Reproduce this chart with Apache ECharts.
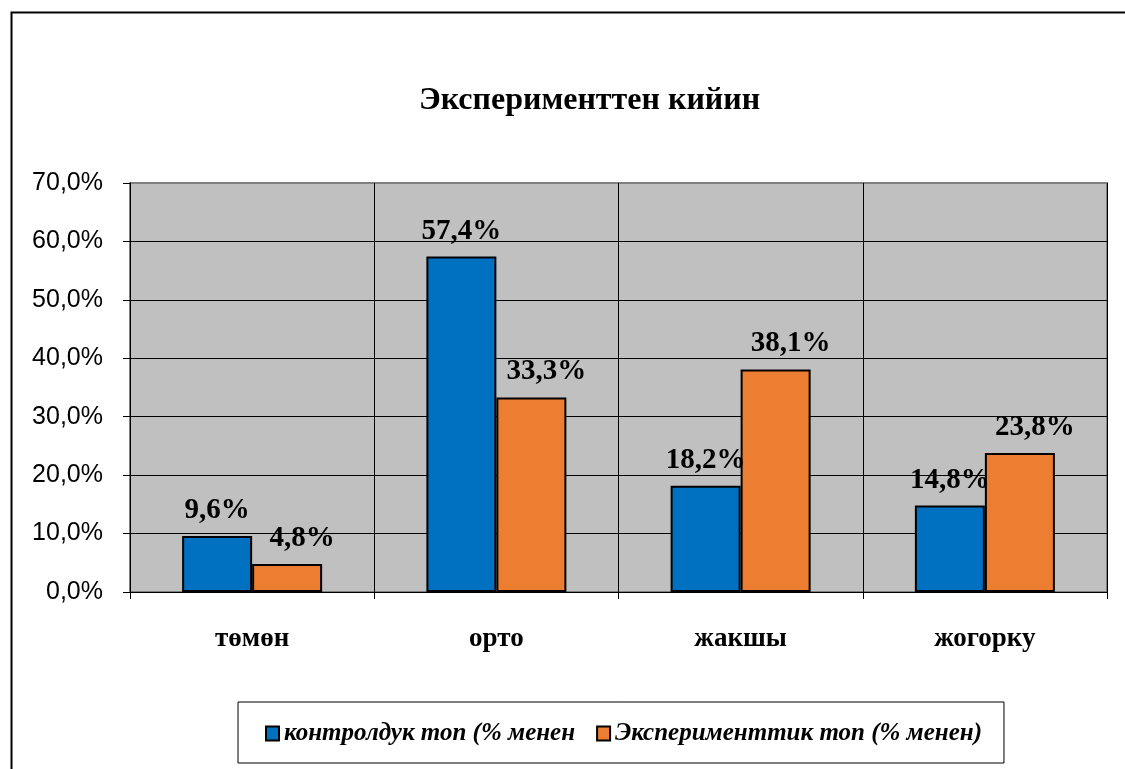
<!DOCTYPE html>
<html><head><meta charset="utf-8">
<script src="https://cdn.jsdelivr.net/npm/echarts@6/dist/echarts.min.js"></script>
<style>html,body{margin:0;padding:0;background:#fff}#c{width:1125px;height:769px}</style>
</head><body><div id="c"></div>
<script>
const categories = ['төмөн', 'орто', 'жакшы', 'жогорку'];
const controlValues = [9.6, 57.4, 18.2, 14.8];
const experimentValues = [4.8, 33.3, 38.1, 23.8];
const seriesNames = ['контролдук топ (% менен', 'Эксперименттик топ (% менен)'];
const titleText = 'Эксперименттен кийин';

const fmt = v => v.toFixed(1).replace('.', ',') + '%';
const serif = '"Liberation Serif", "Times New Roman", serif';
const sans = '"Liberation Sans", Arial, sans-serif';

const chart = echarts.init(document.getElementById('c'));
const labelBase = {
  show: true, position: 'top', distance: 11,
  fontFamily: serif, fontWeight: 'bold', fontSize: 29, color: '#000',
  formatter: p => fmt(p.value)
};
chart.setOption({
  animation: false,
  graphic: [{
    type: 'rect', left: 9, top: 10, z: -1,
    shape: { width: 1200, height: 800 },
    style: { fill: 'none', stroke: '#000', lineWidth: 2 }
  }],
  title: {
    text: titleText, left: 414, top: 80,
    textStyle: { fontFamily: serif, fontWeight: 'bold', fontSize: 32, color: '#000' }
  },
  grid: {
    left: 130, right: 18, top: 183, height: 409,
    show: true, backgroundColor: '#C0C0C0', borderColor: '#808080', borderWidth: 2
  },
  legend: {
    top: 702, left: 238,
    data: seriesNames,
    icon: 'rect', itemWidth: 13, itemHeight: 14, itemGap: 21,
    borderColor: '#000', borderWidth: 1, padding: [19, 22, 17, 27],
    textStyle: { fontFamily: serif, fontStyle: 'italic', fontWeight: 'bold', fontSize: 25, color: '#000' }
  },
  xAxis: {
    type: 'category', data: categories,
    axisLine: { lineStyle: { color: '#000', width: 1 } },
    axisTick: { show: true, length: 7, lineStyle: { color: '#000' } },
    axisLabel: { margin: 34, fontFamily: serif, fontWeight: 'bold', fontSize: 27, color: '#000' },
    splitLine: { show: true, lineStyle: { color: '#000', width: 1 } }
  },
  yAxis: {
    type: 'value', min: 0, max: 70, interval: 10,
    axisLine: { show: true, lineStyle: { color: '#000', width: 1 } },
    axisTick: { show: true, length: 7, lineStyle: { color: '#000' } },
    axisLabel: { margin: 27, fontFamily: sans, fontSize: 25, color: '#000', formatter: v => fmt(v) },
    splitLine: { lineStyle: { color: ['#000','#000','#000','#000','#000','#000','#000','#808080'], width: 1 } }
  },
  series: [
    {
      name: seriesNames[0], type: 'bar', data: controlValues,
      barWidth: 70, barGap: '0%',
      itemStyle: { color: '#0070C0', borderColor: '#000', borderWidth: 2 },
      label: labelBase
    },
    {
      name: seriesNames[1], type: 'bar', data: experimentValues,
      barWidth: 70,
      itemStyle: { color: '#ED7D31', borderColor: '#000', borderWidth: 2 },
      label: Object.assign({}, labelBase, { offset: [15, 0] })
    }
  ]
});
</script></body></html>
